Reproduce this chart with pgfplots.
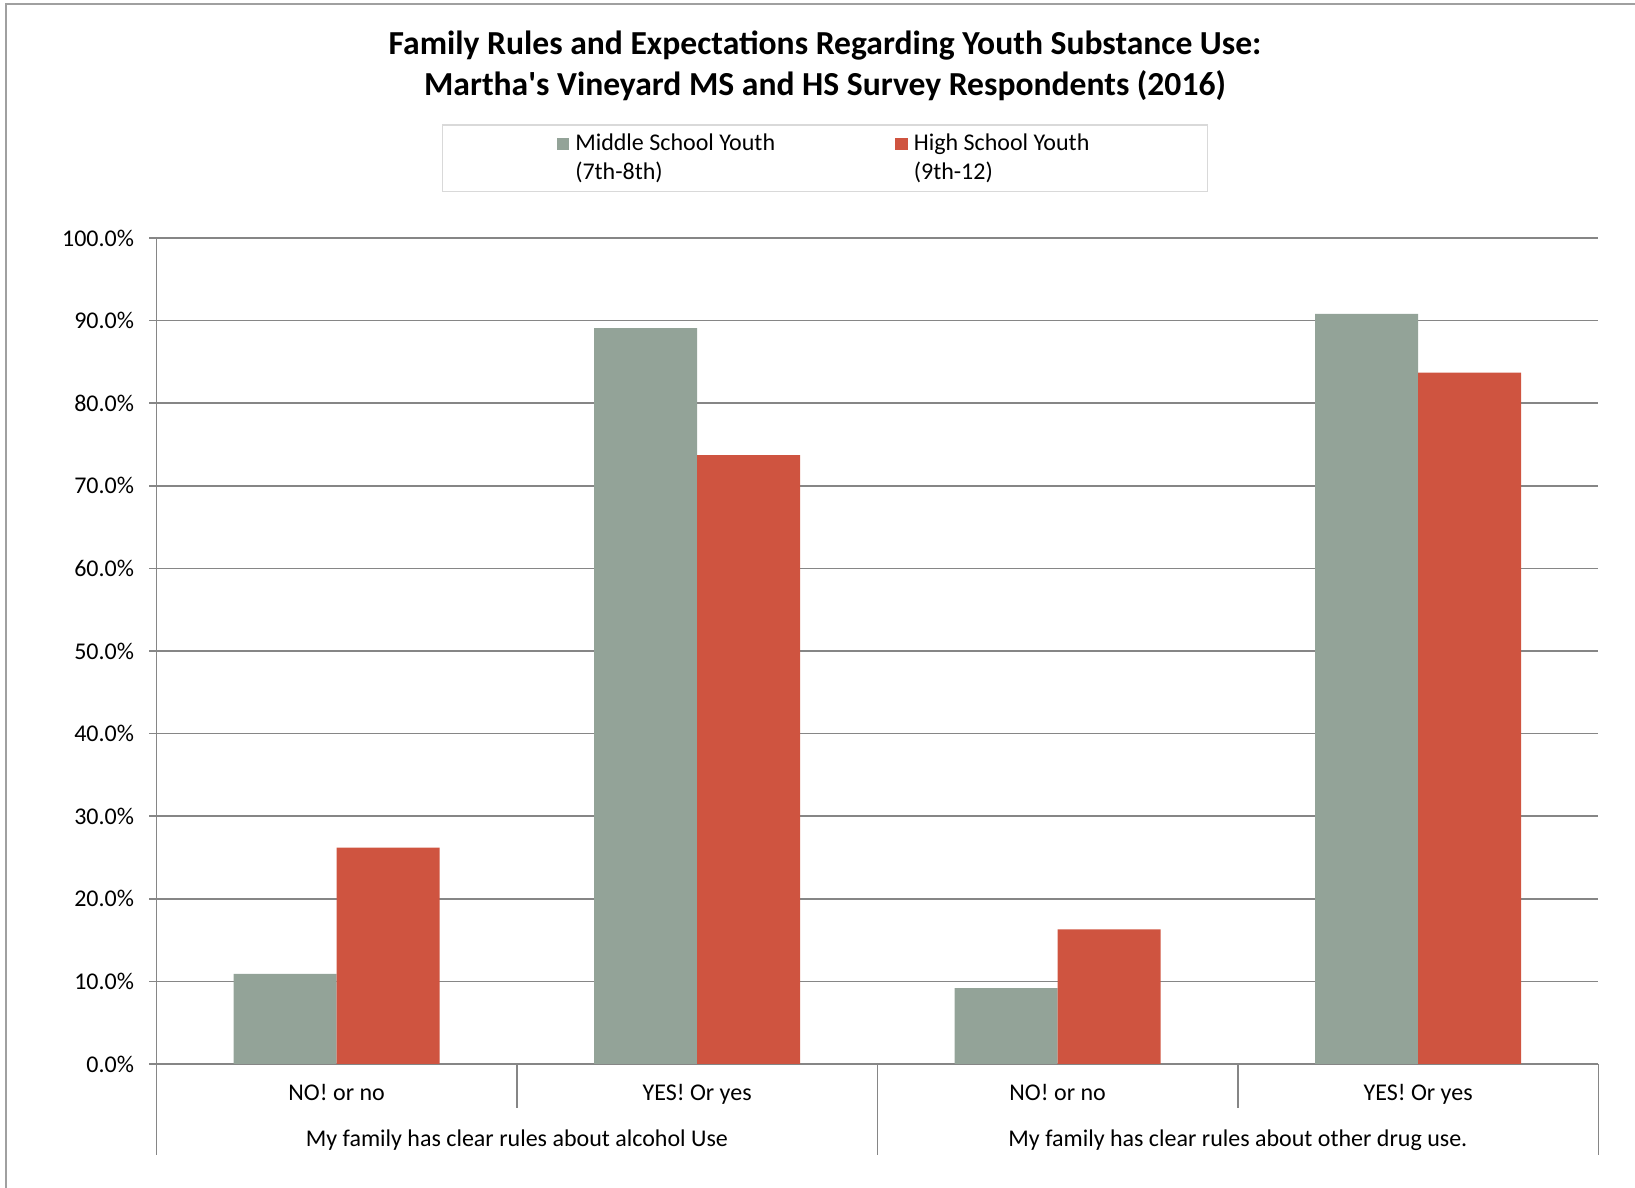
\documentclass[border=0pt]{standalone}
\usepackage{pgfplots}
\pgfplotsset{compat=1.18}
\usepackage{fontspec}
\setmainfont{Carlito}[Ligatures=TeXOff]
\definecolor{msc}{RGB}{147,163,152}
\definecolor{hsc}{RGB}{207,84,64}
\definecolor{gridc}{RGB}{134,134,134}
\definecolor{legc}{RGB}{217,217,217}
\definecolor{borderc}{RGB}{160,160,160}
\begin{document}
\begin{tikzpicture}[x=1pt,y=1pt]
\useasboundingbox (0,0) rectangle (817.5,594);
\draw[borderc, line width=1pt] (3,0) -- (3,592) -- (817.5,592);
\begin{axis}[
  at={(78.2pt,62pt)}, anchor=south west,
  scale only axis, width=721pt, height=413pt,
  xmin=-0.5, xmax=3.5, ymin=0, ymax=100,
  clip=false,
  axis lines*=left,
  axis line style={gridc, line width=0.75pt},
  ytick={0,10,...,100},
  ymajorgrids, grid style={gridc, line width=0.75pt},
  tick align=outside,
  major tick length=3.5pt,
  ytick style={gridc, line width=0.75pt},
  xtick={0,1,2,3},
  xtick style={draw=none},
  xticklabels={NO! or no, YES! Or yes, NO! or no, YES! Or yes},
  xticklabel style={anchor=base, yshift=-14.85pt},
  /pgf/number format/assume math mode=true,
  tick label style={font=\fontsize{12}{14.4}\selectfont},
  yticklabel={\pgfmathprintnumber[fixed,fixed zerofill,precision=1]{\tick}\%},
  yticklabel style={inner xsep=0pt, xshift=-7.5pt},
  legend columns=2,
  legend style={at={(0.4637,1.138)}, anchor=north, draw=legc, line width=0.75pt,
    font=\fontsize{12}{14.6}\selectfont,
    inner xsep=57pt, inner ysep=2.5pt,
    cells={anchor=base west, align=left, inner xsep=4pt},
    /tikz/every odd column/.append style={column sep=1pt},
    /tikz/every even column/.append style={column sep=58pt}},
]
\addplot[ybar, bar width=0.2857, bar shift=-0.14285, fill=msc, draw=none,
  legend image code/.code={\fill[msc] (0pt,14.6pt) rectangle (6.3pt,20.9pt);}]
  coordinates {(0,10.9) (1,89.1) (2,9.2) (3,90.8)};
\addlegendentry{Middle School Youth\\(7th-8th)}
\addplot[ybar, bar width=0.2857, bar shift=0.14285, fill=hsc, draw=none,
  legend image code/.code={\fill[hsc] (0pt,14.6pt) rectangle (6.3pt,20.9pt);}]
  coordinates {(0,26.2) (1,73.7) (2,16.3) (3,83.7)};
\addlegendentry{High School Youth\\(9th-12)}
\draw[gridc, line width=0.75pt] (axis cs:-0.5,0) -- ([yshift=-45.7pt]axis cs:-0.5,0);
\draw[gridc, line width=0.75pt] (axis cs:1.5,0) -- ([yshift=-45.7pt]axis cs:1.5,0);
\draw[gridc, line width=0.75pt] (axis cs:3.5,0) -- ([yshift=-45.7pt]axis cs:3.5,0);
\draw[gridc, line width=0.75pt] (axis cs:0.5,0) -- ([yshift=-22pt]axis cs:0.5,0);
\draw[gridc, line width=0.75pt] (axis cs:2.5,0) -- ([yshift=-22pt]axis cs:2.5,0);
\node[anchor=base, font=\fontsize{12}{14.4}\selectfont, yshift=-41.5pt] at (axis cs:0.5,0) {My family has clear rules about alcohol Use};
\node[anchor=base, font=\fontsize{12}{14.4}\selectfont, yshift=-41.5pt] at (axis cs:2.5,0) {My family has clear rules about other drug use.};
\end{axis}
\node[anchor=base, align=center, font=\bfseries\fontsize{16.8}{20.5}\selectfont] at (412.5,546)
  {Family Rules and Expectations Regarding Youth Substance Use:\\Martha's Vineyard MS and HS Survey Respondents (2016)};
\end{tikzpicture}
\end{document}
